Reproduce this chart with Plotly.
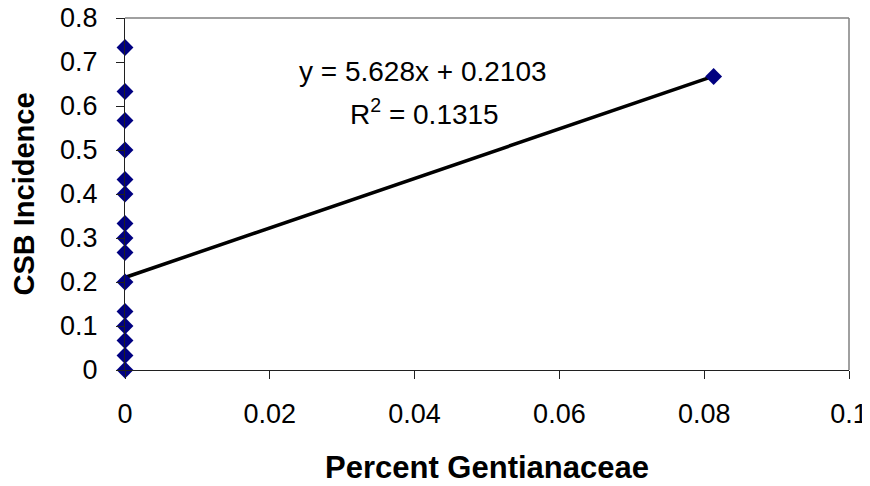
import plotly.graph_objects as go

# Data
x_vals = [0, 0, 0, 0, 0, 0, 0, 0, 0, 0, 0, 0, 0, 0, 0, 0.0813]
y_vals = [0.733, 0.633, 0.567, 0.5, 0.433, 0.4, 0.333, 0.3, 0.267, 0.2,
          0.133, 0.1, 0.067, 0.033, 0.0, 0.667]
slope = 5.628
intercept = 0.2103
r2 = 0.1315
x_ticks = [0, 0.02, 0.04, 0.06, 0.08, 0.1]
x_tick_labels = ["0", "0.02", "0.04", "0.06", "0.08", "0.1"]
y_ticks = [0, 0.1, 0.2, 0.3, 0.4, 0.5, 0.6, 0.7, 0.8]
y_tick_labels = ["0", "0.1", "0.2", "0.3", "0.4", "0.5", "0.6", "0.7", "0.8"]

FONT = "Arial, Liberation Sans, sans-serif"

x_line = [min(x_vals), max(x_vals)]
y_line = [slope * v + intercept for v in x_line]

fig = go.Figure()
fig.add_trace(go.Scatter(x=x_line, y=y_line, mode="lines",
                         line=dict(color="black", width=3.5), showlegend=False,
                         hoverinfo="skip"))
fig.add_trace(go.Scatter(x=x_vals, y=y_vals, mode="markers",
                         marker=dict(symbol="diamond", size=13, color="#000080",
                                     line=dict(width=0)),
                         showlegend=False, cliponaxis=False))

fig.add_annotation(x=0.0412, y=0.678, xref="x", yref="y",
                   text=f"y = {slope}x + {intercept}", showarrow=False,
                   font=dict(family=FONT, size=28, color="black"))
fig.add_annotation(x=0.0413, y=0.586, xref="x", yref="y",
                   text=f"R<sup>2</sup> = {r2}", showarrow=False,
                   font=dict(family=FONT, size=28, color="black"))

# gray top/right frame
fig.add_shape(type="line", xref="paper", yref="paper", x0=0, x1=1, y0=1, y1=1,
              line=dict(color="#808080", width=1.5))
fig.add_shape(type="line", xref="paper", yref="paper", x0=1, x1=1, y0=0, y1=1,
              line=dict(color="#808080", width=1.5))

fig.update_layout(
    width=870, height=486,
    margin=dict(l=117, r=29, t=10, b=124, autoexpand=False),
    plot_bgcolor="white", paper_bgcolor="white",
    font=dict(family=FONT, size=27, color="black"),
    xaxis=dict(range=[0, 0.1], tickvals=x_ticks, ticktext=x_tick_labels,
               showgrid=False, zeroline=False, showline=True, linecolor="#202020",
               linewidth=1, ticks="outside", ticklen=8, tickcolor="#202020",
               ticklabelstandoff=12, automargin=False, ticklabeloverflow="allow",
               tickfont=dict(family=FONT, size=27),
               title=dict(text="<b>Percent Gentianaceae</b>", standoff=27,
                          font=dict(family=FONT, size=31))),
    yaxis=dict(range=[0, 0.8], tickvals=y_ticks, ticktext=y_tick_labels,
               showgrid=False, zeroline=False, showline=True, linecolor="#202020",
               linewidth=1, ticks="outside", ticklen=8, tickcolor="#202020",
               ticklabelstandoff=13, automargin=False, ticklabeloverflow="allow",
               tickfont=dict(family=FONT, size=27),
               title=dict(text="<b>CSB Incidence</b>", standoff=20,
                          font=dict(family=FONT, size=29))),
)

fig.write_html("out.html")
